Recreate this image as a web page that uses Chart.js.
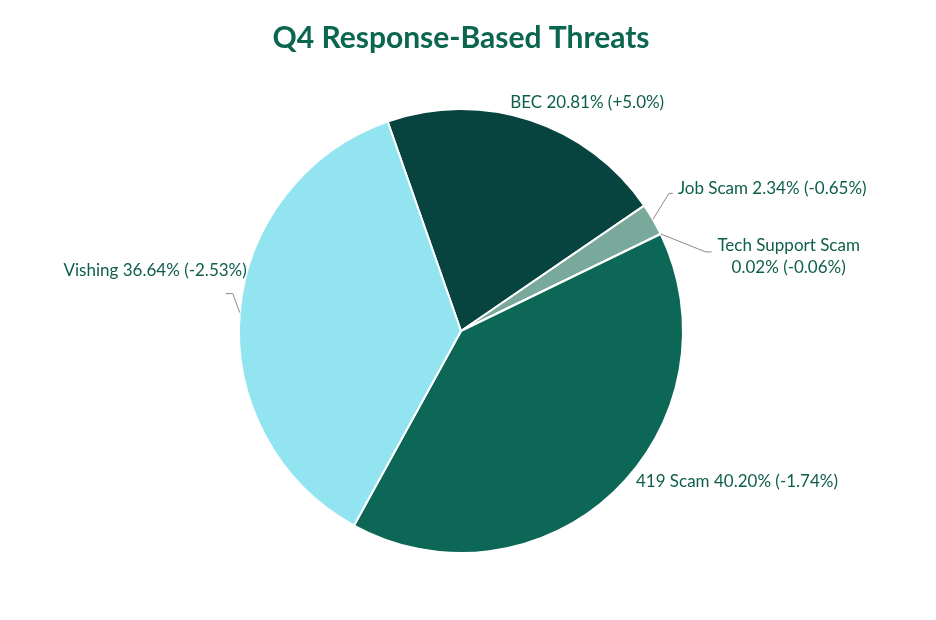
<!DOCTYPE html>
<html>
<head>
<meta charset="utf-8">
<script src="https://cdn.jsdelivr.net/npm/chart.js@4"></script>
<style>
  html, body { margin: 0; padding: 0; background: #fff; }
  #wrap { width: 936px; height: 620px; }
</style>
</head>
<body>
<div id="wrap"><canvas id="threat-chart"></canvas></div>
<script>
// Q4 response-based threat share and change vs previous quarter
const categories = ['BEC', 'Job Scam', 'Tech Support Scam', '419 Scam', 'Vishing'];
const shares = [20.81, 2.34, 0.02, 40.20, 36.64];
const changes = ['+5.0%', '-0.65%', '-0.06%', '-1.74%', '-2.53%'];
const colors = ['#07443f', '#79a99a', '#0a4d40', '#0c6756', '#93e4f1'];

// where each label sits relative to the outer edge of its slice
const labelLayout = [
    { dx: 57, dy: -18, align: 'center' },
    { dx: 25, dy: -31, align: 'left', line: [16, -26, 20] },
    { dx: 128, dy: 12, align: 'center', line: [45, 18, 51], wrap: true },
    { dx: 22, dy: -10, align: 'left' },
    { dx: 7, dy: -42, align: 'right', line: [-7, -19, -14] }
];

const sliceLabels = {
    id: 'sliceLabels',
    afterDatasetsDraw(chart) {
        const ctx = chart.ctx;
        const arcs = chart.getDatasetMeta(0).data;
        ctx.save();
        ctx.font = '17px Lato';
        ctx.fillStyle = '#0d5e4a';
        ctx.textBaseline = 'middle';
        arcs.forEach((arc, i) => {
            const mid = (arc.startAngle + arc.endAngle) / 2;
            const ax = arc.x + Math.cos(mid) * arc.outerRadius;
            const ay = arc.y + Math.sin(mid) * arc.outerRadius;
            const lay = labelLayout[i];
            if (lay.line) {
                ctx.strokeStyle = '#8a8a8a';
                ctx.lineWidth = 1;
                ctx.beginPath();
                ctx.moveTo(ax, ay);
                ctx.lineTo(ax + lay.line[0], ay + lay.line[1]);
                ctx.lineTo(ax + lay.line[2], ay + lay.line[1]);
                ctx.stroke();
            }
            ctx.textAlign = lay.align;
            const pct = shares[i].toFixed(2) + '% (' + changes[i] + ')';
            if (lay.wrap) {
                ctx.fillText(categories[i], ax + lay.dx, ay + lay.dy);
                ctx.fillText(pct, ax + lay.dx, ay + lay.dy + 22);
            } else {
                ctx.fillText(categories[i] + ' ' + pct, ax + lay.dx, ay + lay.dy);
            }
        });
        ctx.restore();
    }
};

const ctx = document.getElementById('threat-chart').getContext('2d');
new Chart(ctx, {
    type: 'pie',
    data: {
        labels: categories,
        datasets: [{
            data: shares,
            backgroundColor: colors,
            borderColor: '#ffffff',
            borderWidth: 2
        }]
    },
    options: {
        responsive: true,
        maintainAspectRatio: false,
        animation: false,
        rotation: -19.3,
        layout: { padding: { left: 238, right: 252, top: 0, bottom: 65 } },
        plugins: {
            legend: { display: false },
            tooltip: { enabled: false },
            title: {
                display: true,
                text: 'Q4 Response-Based Threats',
                color: '#0b6650',
                font: { family: 'Lato', size: 30, weight: 'bold', lineHeight: 1.2 },
                padding: { top: 20, bottom: 51 }
            }
        }
    },
    plugins: [sliceLabels]
});
</script>
</body>
</html>
